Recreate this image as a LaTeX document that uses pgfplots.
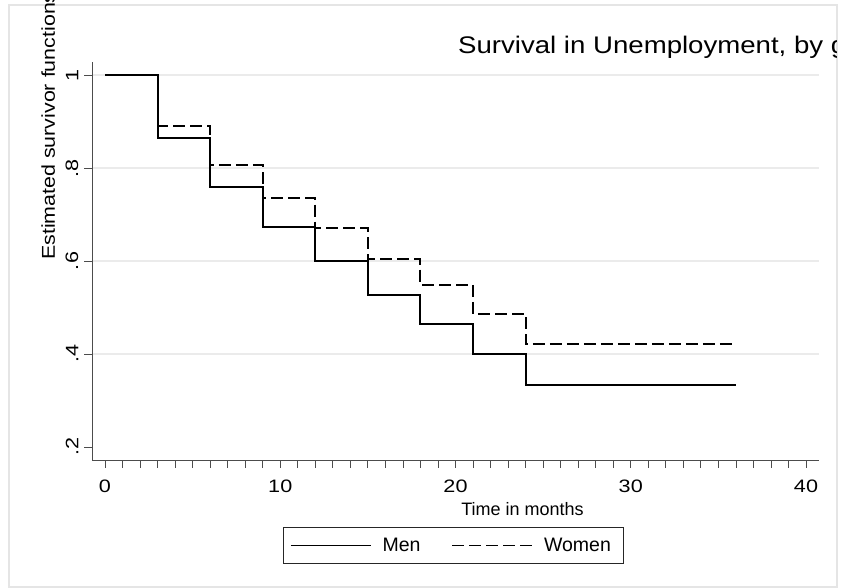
\documentclass[border=0pt]{standalone}
\usepackage{fontspec}
\setmainfont{Liberation Sans}
\usepackage{graphicx}
\usepackage{pgfplots}
\pgfplotsset{compat=1.18}
\newcommand{\tickfont}{\fontsize{18bp}{20bp}\selectfont}
\newcommand{\sx}[1]{\scalebox{1.2}[1]{#1}}
\begin{document}
\begin{tikzpicture}[x=1bp,y=1bp]
\draw[black!10, line width=1.5bp] (9,1) rectangle (837,583);
\begin{scope}
\clip (0,0) rectangle (836,588);
\node[anchor=base west, inner sep=0pt, font=\fontsize{24bp}{26bp}\selectfont] at (458,534.7) {\scalebox{1.15}[1]{Survival in Unemployment, by group}};
\begin{axis}[
  at={(92bp,128bp)}, anchor=south west,
  scale only axis, width=727bp, height=398bp,
  xmin=-0.742, xmax=40.742, ymin=0.172, ymax=1.028,
  axis x line*=bottom, axis y line*=left,
  axis line style={black!70, line width=0.8bp},
  tick align=outside, major tick length=8bp, minor tick length=8bp,
  tick style={black!70, line width=0.8bp},
  xtick={0,10,20,30,40},
  xticklabels={\sx{0},\sx{10},\sx{20},\sx{30},\sx{40}},
  minor xtick={0,...,40},
  ytick={0.4,0.6,0.8,1},
  yticklabels={\sx{.4},\sx{.6},\sx{.8},\sx{1}},
  extra y ticks={0.2}, extra y tick labels={\sx{.2}},
  extra y tick style={grid=none},
  ymajorgrids, major grid style={black!8, line width=1.4bp},
  xticklabel style={font=\tickfont, anchor=north, inner sep=0pt, yshift=-11.5bp},
  yticklabel style={font=\tickfont, xshift=-5.5bp, rotate=90, anchor=south, inner sep=0pt},
  xlabel={Time in months},
  xlabel style={font=\fontsize{18bp}{20bp}\selectfont, at={(axis description cs:0.5922,-0.1407)}, anchor=base, inner sep=0pt},
  ylabel={\scalebox{1.15}[1]{Estimated survivor functions}},
  ylabel style={font=\fontsize{18.6bp}{20bp}\selectfont, at={(axis description cs:-0.0509,0.5025)}, anchor=base west, inner sep=0pt},
  legend columns=2,
  legend image code/.code={\draw[#1, line width=1.5bp] (0bp,0bp) -- (80bp,0bp);},
  legend style={at={(0.4966,-0.1683)}, anchor=north, draw=black!85, line width=0.8bp,
    font=\fontsize{19.5bp}{21bp}\selectfont, inner xsep=7bp, inner ysep=2.5bp,
    nodes={inner xsep=5bp, inner ysep=8bp},
    /tikz/every odd column/.append style={column sep=6bp},
    /tikz/every even column/.append style={column sep=26bp}},
]
\addplot[const plot, black, line width=2bp] coordinates {
  (0,1) (3,0.864) (6,0.759) (9,0.673) (12,0.599) (15,0.526) (18,0.465) (21,0.400) (24,0.334) (36,0.334)
};
\addlegendentry{Men}
\addplot[const plot, black, line width=2bp, dash pattern=on 12bp off 5bp] coordinates {
  (0,1) (3,0.891) (6,0.806) (9,0.736) (12,0.671) (15,0.605) (18,0.549) (21,0.486) (24,0.421) (36,0.421)
};
\addlegendentry{Women}
\end{axis}
\end{scope}
\pgfresetboundingbox
\useasboundingbox (0,0) rectangle (844,588);
\end{tikzpicture}
\end{document}
